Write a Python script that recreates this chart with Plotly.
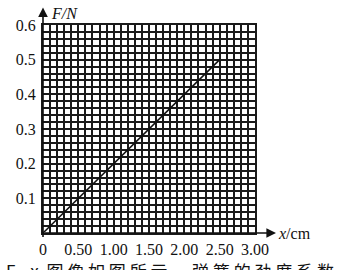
import plotly.graph_objects as go

# data
x_cm = [0, 2.5]
F_N = [0, 0.5]
x_tickvals = [0, 0.5, 1.0, 1.5, 2.0, 2.5, 3.0]
x_ticktext = ["0", "0.50", "1.00", "1.50", "2.00", "2.50", "3.00"]
y_tickvals = [0.1, 0.2, 0.3, 0.4, 0.5, 0.6]
y_ticktext = ["0.1", "0.2", "0.3", "0.4", "0.5", "0.6"]

W, H = 353, 270
L, R, T, B = 43, 98, 25, 32
pw, ph = W - L - R, H - T - B

SERIF = "Liberation Serif, Times New Roman, serif"
INK = "#111111"
GRID = "#1a1a1a"
GW = 2

fig = go.Figure()
fig.add_trace(go.Scatter(x=x_cm, y=F_N, mode="lines",
                         line=dict(color=INK, width=1.6),
                         hoverinfo="skip", showlegend=False))

fig.update_layout(
    width=W, height=H,
    margin=dict(l=L, r=R, t=T, b=B, pad=0),
    paper_bgcolor="white", plot_bgcolor="white",
    font=dict(family=SERIF, size=16, color=INK),
    xaxis=dict(range=[0, 3], tickvals=x_tickvals, ticktext=x_ticktext,
               showgrid=True, gridcolor=GRID, gridwidth=GW,
               minor=dict(dtick=0.1, tick0=0, showgrid=True, gridcolor=GRID, gridwidth=GW, ticks=""),
               zeroline=False, showline=True, linecolor=GRID, linewidth=GW, mirror=True,
               ticks="", ticklabelstandoff=1, tickfont=dict(family=SERIF, size=16, color=INK),
               fixedrange=True),
    yaxis=dict(range=[0, 0.6], tickvals=y_tickvals, ticktext=y_ticktext,
               showgrid=True, gridcolor=GRID, gridwidth=GW,
               minor=dict(dtick=0.02, tick0=0, showgrid=True, gridcolor=GRID, gridwidth=GW, ticks=""),
               zeroline=False, showline=True, linecolor=GRID, linewidth=GW, mirror=True,
               ticks="", ticklabelstandoff=2, tickfont=dict(family=SERIF, size=16, color=INK),
               fixedrange=True),
)

# axis arrows
x_tip = 276
y_tip = 7
fig.add_annotation(xref="paper", yref="paper", x=(x_tip - L) / pw, y=0,
                   ax=-(x_tip - L), ay=0, axref="pixel", ayref="pixel",
                   showarrow=True, arrowhead=2, arrowsize=1.2, arrowwidth=1.6,
                   arrowcolor=INK, text="")
fig.add_annotation(xref="paper", yref="paper", x=0, y=(H - B - y_tip) / ph,
                   ax=0, ay=(H - B - y_tip), axref="pixel", ayref="pixel",
                   showarrow=True, arrowhead=2, arrowsize=1.2, arrowwidth=1.6,
                   arrowcolor=INK, text="")

# axis titles
fig.add_annotation(xref="paper", yref="paper", x=(49 - L) / pw, y=(H - B - 13) / ph,
                   xanchor="left", yanchor="middle", showarrow=False,
                   text="<i>F/N</i>", font=dict(family=SERIF, size=16, color=INK))
fig.add_annotation(xref="paper", yref="paper", x=(276 - L) / pw, y=(H - B - 238) / ph,
                   xanchor="left", yanchor="middle", showarrow=False,
                   text="<i>x</i>/cm", font=dict(family=SERIF, size=16, color=INK))

# caption text, cut off at the bottom edge as in the reference
fig.add_annotation(xref="paper", yref="paper", x=(4 - L) / pw, y=-(262 - (H - B)) / ph,
                   xanchor="left", yanchor="top", showarrow=False,
                   text="F—x  图 像 如 图 所 示 ， 弹 簧 的 劲 度 系 数",
                   font=dict(family="Noto Sans CJK SC, serif", size=17, color=INK))

fig.write_html("out.html")
